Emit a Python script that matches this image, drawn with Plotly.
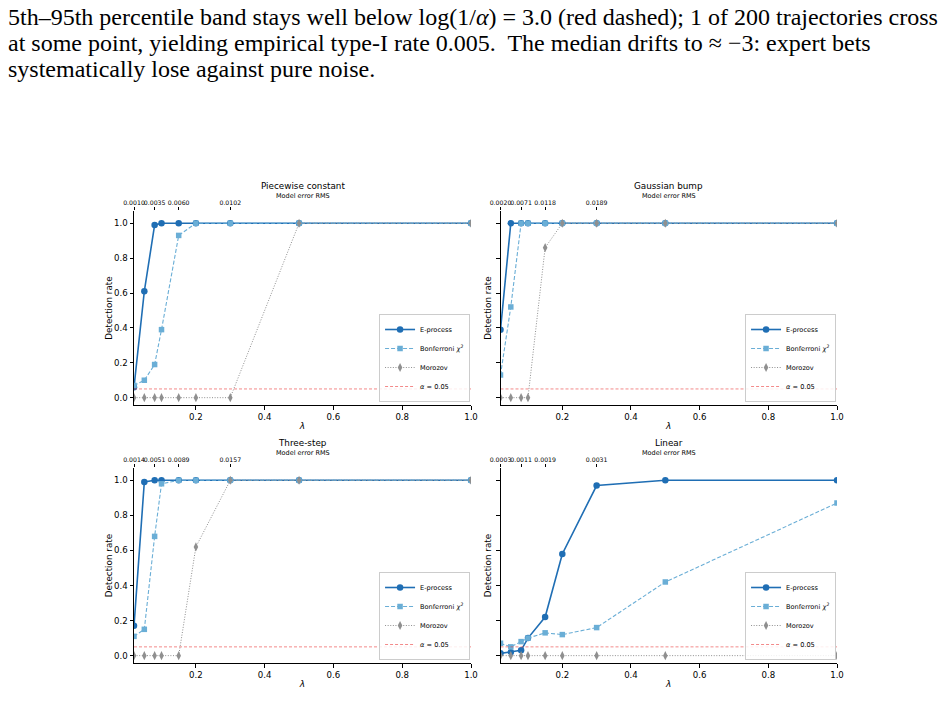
import plotly.graph_objects as go

W, H = 947, 716

# ---------------- data ----------------
lam = [0.02, 0.05, 0.08, 0.1, 0.15, 0.2, 0.3, 0.5, 1.0]
panel_titles = ["Piecewise constant", "Gaussian bump", "Three-step", "Linear"]
rms_tick_lam = [0.02, 0.08, 0.15, 0.3]
rms_pc = ["0.0010", "0.0035", "0.0060", "0.0102"]
rms_gb = ["0.0020", "0.0071", "0.0118", "0.0189"]
rms_ts = ["0.0014", "0.0051", "0.0089", "0.0157"]
rms_lin = ["0.0003", "0.0011", "0.0019", "0.0031"]

e_pc = [0.06, 0.61, 0.99, 1.0, 1.0, 1.0, 1.0, 1.0, 1.0]
b_pc = [0.07, 0.10, 0.19, 0.39, 0.93, 1.0, 1.0, 1.0, 1.0]
m_pc = [0.0, 0.0, 0.0, 0.0, 0.0, 0.0, 0.0, 1.0, 1.0]

e_gb = [0.39, 1.0, 1.0, 1.0, 1.0, 1.0, 1.0, 1.0, 1.0]
b_gb = [0.13, 0.52, 1.0, 1.0, 1.0, 1.0, 1.0, 1.0, 1.0]
m_gb = [0.0, 0.0, 0.0, 0.0, 0.86, 1.0, 1.0, 1.0, 1.0]

e_ts = [0.17, 0.99, 1.0, 1.0, 1.0, 1.0, 1.0, 1.0, 1.0]
b_ts = [0.11, 0.15, 0.68, 0.98, 1.0, 1.0, 1.0, 1.0, 1.0]
m_ts = [0.0, 0.0, 0.0, 0.0, 0.0, 0.62, 1.0, 1.0, 1.0]

e_lin = [0.013, 0.02, 0.03, 0.10, 0.22, 0.58, 0.97, 1.0, 1.0]
b_lin = [0.07, 0.05, 0.08, 0.10, 0.13, 0.12, 0.16, 0.42, 0.87]
m_lin = [0.0, 0.0, 0.0, 0.0, 0.0, 0.0, 0.0, 0.0, 0.0]

alpha_level = 0.05

paper_lines = [
    "5th–95th percentile band stays well below log(1/<i>α</i>) = 3.0 (red dashed); 1 of 200 trajectories cross",
    "at some point, yielding empirical type-I rate 0.005.  The median drifts to ≈ −3: expert bets",
    "systematically lose against pure noise.",
]

# ---------------- styling ----------------
C_E = "#1f6eb4"
C_B = "#6aaed6"
C_M = "#8f8f8f"
C_A = "rgba(235,60,60,0.6)"
FONT = "DejaVu Sans"

def px(x):
    return x / W

def py(y):
    return 1 - y / H

# panel geometry (pixels)
cols = [(134, 471), (500.5, 837)]
rows = [(211, 405), (468, 663)]

panels = [
    (panel_titles[0], rms_pc, e_pc, b_pc, m_pc, 0, 0),
    (panel_titles[1], rms_gb, e_gb, b_gb, m_gb, 0, 1),
    (panel_titles[2], rms_ts, e_ts, b_ts, m_ts, 1, 0),
    (panel_titles[3], rms_lin, e_lin, b_lin, m_lin, 1, 1),
]

fig = go.Figure()
layout = dict(
    width=W, height=H, autosize=False,
    margin=dict(l=0, r=0, t=0, b=0, pad=0),
    paper_bgcolor="white", plot_bgcolor="white",
    font=dict(family=FONT, color="black"),
    annotations=[],
)

xr = [lam[0], lam[-1]]

for i, (title, rms, e, b, m, r, c) in enumerate(panels):
    k = i + 1
    xname = "x" if k == 1 else f"x{k}"
    yname = "y" if k == 1 else f"y{k}"
    tname = f"x{k + 4}"
    lname = "legend" if k == 1 else f"legend{k}"
    x0, x1 = cols[c]
    ytop, ybot = rows[r]

    fig.add_trace(go.Scatter(
        x=lam, y=e, xaxis=xname, yaxis=yname, legend=lname, name="E-process",
        mode="lines+markers", line=dict(color=C_E, width=1.6),
        marker=dict(symbol="circle", size=6.5, color=C_E)))
    fig.add_trace(go.Scatter(
        x=lam, y=b, xaxis=xname, yaxis=yname, legend=lname,
        name="Bonferroni <i>χ</i><sup>2</sup>",
        mode="lines+markers", line=dict(color=C_B, width=1.1, dash="4px,2px"),
        marker=dict(symbol="square", size=5.5, color=C_B)))
    fig.add_trace(go.Scatter(
        x=lam, y=m, xaxis=xname, yaxis=yname, legend=lname, name="Morozov",
        mode="lines+markers", line=dict(color=C_M, width=1, dash="1px,1.6px"),
        marker=dict(symbol="diamond-tall", size=6.5, color=C_M)))
    fig.add_trace(go.Scatter(
        x=xr, y=[alpha_level, alpha_level], xaxis=xname, yaxis=yname, legend=lname,
        name="<i>α</i> = 0.05", mode="lines",
        line=dict(color=C_A, width=1, dash="3px,2px"), hoverinfo="skip"))
    # carrier for top (model error RMS) axis
    fig.add_trace(go.Scatter(
        x=lam, y=[None] * len(lam), xaxis=tname, yaxis=yname,
        showlegend=False, hoverinfo="skip", mode="lines"))

    xdom = [px(x0), px(x1)]
    ydom = [py(ybot), py(ytop)]
    ax_key = "xaxis" if k == 1 else f"xaxis{k}"
    ay_key = "yaxis" if k == 1 else f"yaxis{k}"
    layout[ax_key] = dict(
        domain=xdom, anchor=yname, range=xr, tick0=0, dtick=0.2, tickformat=".1f",
        automargin=False,
        showline=True, linecolor="black", linewidth=1, mirror=False,
        ticks="outside", ticklen=3.5, tickwidth=1, tickcolor="black",
        showgrid=False, zeroline=False, tickangle=0,
        tickfont=dict(size=8.6, family=FONT),
        title=dict(text="<i>λ</i>", font=dict(size=9, family=FONT), standoff=1),
    )
    layout[ay_key] = dict(
        domain=ydom, anchor=xname, range=[-0.042, 1.07],
        tickvals=[0, 0.2, 0.4, 0.6, 0.8, 1.0], tickformat=".1f",
        automargin=False,
        showticklabels=(c == 0),
        showline=True, linecolor="black", linewidth=1,
        ticks="outside", ticklen=3.5, tickwidth=1, tickcolor="black",
        showgrid=False, zeroline=False,
        tickfont=dict(size=8.6, family=FONT),
        title=dict(text="Detection rate", font=dict(size=8.8, family=FONT),
                   standoff=0 if c == 0 else 2),
    )
    layout[f"xaxis{k + 4}"] = dict(
        overlaying=xname, anchor=yname, side="top", range=xr,
        automargin=False,
        tickvals=rms_tick_lam, ticktext=rms, tickangle=0,
        showline=False, showgrid=False, zeroline=False,
        ticks="outside", ticklen=3, tickwidth=1, tickcolor="black",
        tickfont=dict(size=6.2, family=FONT),
    )
    layout[lname] = dict(
        x=px(x1) - 0.001, xanchor="right", y=py(ybot - 3), yanchor="bottom",
        bgcolor="rgba(255,255,255,0.85)", bordercolor="#cccccc", borderwidth=1,
        font=dict(size=6.6, family=FONT), itemwidth=30, tracegroupgap=0,
    )
    layout["annotations"].append(dict(
        text=title, xref="paper", yref="paper",
        x=px((x0 + x1) / 2), y=py(ytop - 25.5), xanchor="center", yanchor="middle",
        showarrow=False, font=dict(size=8.8, family=FONT)))
    layout["annotations"].append(dict(
        text="Model error RMS", xref="paper", yref="paper",
        x=px((x0 + x1) / 2), y=py(ytop - 15), xanchor="center", yanchor="middle",
        showarrow=False, font=dict(size=6.5, family=FONT)))

for j, line in enumerate(paper_lines):
    layout["annotations"].append(dict(
        text=line, xref="paper", yref="paper", x=px(6), y=py(17 + 26 * j),
        xanchor="left", yanchor="middle", showarrow=False,
        font=dict(size=24, family="Liberation Serif", color="black")))

fig.update_layout(**layout)
fig.write_html("out.html")
